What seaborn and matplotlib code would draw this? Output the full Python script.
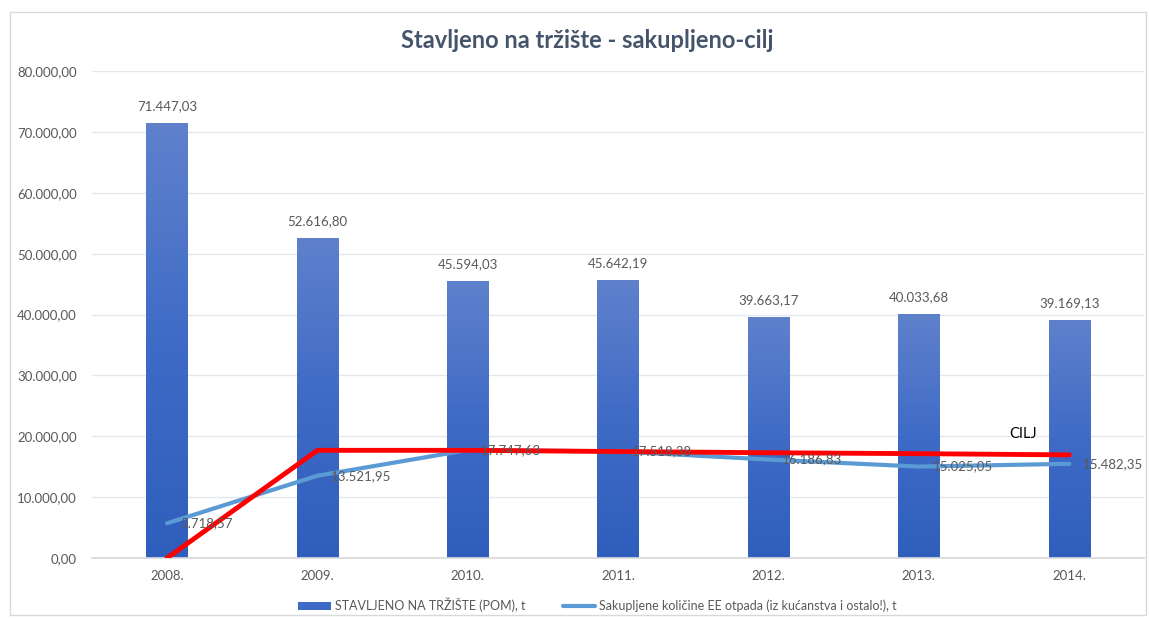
import numpy as np
import pandas as pd
import matplotlib
matplotlib.use("Agg")
import matplotlib.pyplot as plt
import seaborn as sns
from matplotlib.colors import LinearSegmentedColormap
from matplotlib.patches import Rectangle
from matplotlib.lines import Line2D
from matplotlib.ticker import FuncFormatter

# ---- data ----
years = ["2008.", "2009.", "2010.", "2011.", "2012.", "2013.", "2014."]
pom = [71447.03, 52616.80, 45594.03, 45642.19, 39663.17, 40033.68, 39169.13]
collected = [5718.57, 13521.95, 17747.63, 17518.38, 16186.83, 15025.05, 15482.35]
target = [0, 17700, 17700, 17500, 17300, 17150, 16950]

BAR_LABEL = "STAVLJENO NA TRŽIŠTE (POM), t"
LINE_LABEL = "Sakupljene količine EE otpada (iz kućanstva i ostalo!), t"
TITLE = "Stavljeno na tržište - sakupljeno-cilj"

TEXT_GREY = "#595959"
FONT = ["Lato", "DejaVu Sans"]


def fmt_hr(v, decimals=2):
    s = f"{v:,.{decimals}f}"
    return s.replace(",", "X").replace(".", ",").replace("X", ".")


sns.set_theme(style="white")
plt.rcParams["font.family"] = FONT

df = pd.DataFrame({"year": years, "pom": pom, "collected": collected, "target": target})

fig = plt.figure(figsize=(11.49, 6.2), dpi=100)
ax = fig.add_axes([0.080, 0.100, 0.916, 0.785])

sns.barplot(data=df, x="year", y="pom", color="#4472C4", width=0.275, ax=ax,
            saturation=1, zorder=2)

# gradient fill for bars
cmap = LinearSegmentedColormap.from_list("bar", ["#2F5EBC", "#3F6BC6", "#5F81CC"])
grad = np.linspace(0, 1, 256).reshape(-1, 1)
for p in ax.patches:
    x0, y0 = p.get_x(), p.get_y()
    w, h = p.get_width(), p.get_height()
    p.set_facecolor("none")
    p.set_edgecolor("none")
    im = ax.imshow(grad, extent=[x0, x0 + w, y0, y0 + h], origin="lower",
                   cmap=cmap, aspect="auto", zorder=2)
    im.set_clip_path(p)
    ax.text(x0 + w / 2, y0 + h + 1800, fmt_hr(h), ha="center", va="bottom",
            fontsize=9.5, color=TEXT_GREY)

xs = np.arange(len(years))
sns.lineplot(x=xs, y=collected, color="#5B9BD5", linewidth=3, ax=ax, zorder=3)
sns.lineplot(x=xs, y=target, color="#FF0000", linewidth=3.5, ax=ax, zorder=4)

for x, v in zip(xs, collected):
    ax.text(x + 0.09, v, fmt_hr(v), ha="left", va="center", fontsize=9.5,
            color=TEXT_GREY, zorder=5)

ax.text(5.6, 19300, "CILJ", fontsize=10.5, color="black", ha="left", va="bottom")

ax.set_xlim(-0.5, len(years) - 0.5)
ax.set_ylim(0, 80000)
ax.set_yticks(np.arange(0, 80001, 10000))
ax.yaxis.set_major_formatter(FuncFormatter(lambda v, _: fmt_hr(v)))
ax.set_xticks(xs)
ax.set_xticklabels(years)
ax.grid(axis="y", color="#E4E8EE", linewidth=1, zorder=0)
ax.set_axisbelow(True)
ax.tick_params(axis="both", length=0, labelsize=9.5, labelcolor=TEXT_GREY)
ax.tick_params(axis="y", pad=11)
ax.tick_params(axis="x", pad=9)
ax.set_xlabel("")
ax.set_ylabel("")
for side in ["top", "right", "left"]:
    ax.spines[side].set_visible(False)
ax.spines["bottom"].set_color("#D9D9D9")

fig.text(0.511, 0.935, TITLE, ha="center", va="center", fontsize=17,
         fontweight="bold", color="#44546A")

handles = [Rectangle((0, 0), 1, 1, facecolor="#3F6BC6", edgecolor="none"),
           Line2D([0], [0], color="#5B9BD5", linewidth=3)]
fig.legend(handles, [BAR_LABEL, LINE_LABEL], loc="center", ncol=2,
           bbox_to_anchor=(0.52, 0.024), frameon=False, fontsize=9,
           labelcolor=TEXT_GREY, handlelength=2.6, handleheight=0.7,
           columnspacing=3.0, handletextpad=0.3)

# outer chart border
fig.add_artist(Rectangle((0.009, 0.008), 0.988, 0.972, transform=fig.transFigure,
                         fill=False, edgecolor="#D9D9D9", linewidth=1))

fig.savefig("out.png", dpi=100)
